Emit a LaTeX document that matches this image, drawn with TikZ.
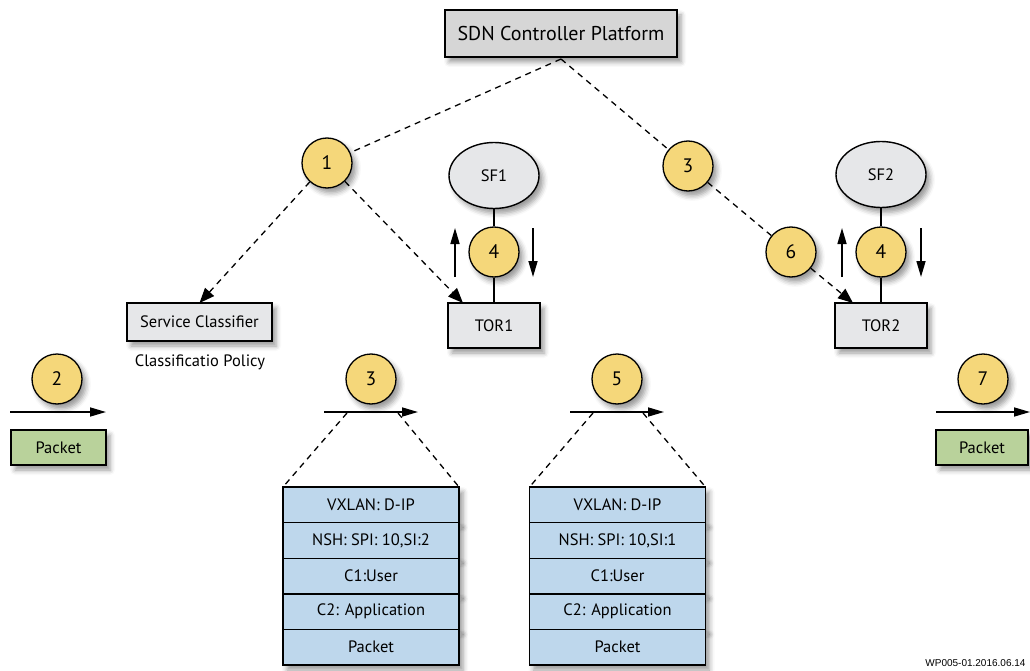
\documentclass[tikz,border=0pt]{standalone}
\usepackage{fontspec}
\setmainfont{PT Sans}
\newfontfamily\footfont{Liberation Sans}
\usetikzlibrary{arrows.meta,shapes.geometric,shadows.blur}
\definecolor{boxgray}{HTML}{E6E7E9}
\definecolor{sdngray}{HTML}{D6D6D6}
\definecolor{circyellow}{HTML}{F5D77A}
\definecolor{pktgreen}{HTML}{B9D29B}
\definecolor{stackblue}{HTML}{BED7EC}
\tikzset{
  shad/.style={blur shadow={shadow xshift=4pt,shadow yshift=-5pt,shadow blur radius=5pt,shadow opacity=40}},
  box/.style={draw,line width=1.4pt,fill=boxgray,inner sep=0pt,outer sep=0pt,font=\fontsize{16.5}{18}\selectfont,shad},
  circ/.style={circle,draw,line width=1.3pt,fill=circyellow,minimum size=50pt,inner sep=0pt,font=\fontsize{19.5}{20}\selectfont,shad},
  sfell/.style={ellipse,draw,line width=1.4pt,fill=boxgray,minimum width=90pt,minimum height=66pt,inner sep=0pt,font=\fontsize{16.5}{18}\selectfont,shad},
  row/.style={draw,line width=1.4pt,fill=stackblue,minimum width=176pt,minimum height=35.6pt,inner sep=0pt,outer sep=0pt,font=\fontsize{16.5}{18}\selectfont,shad},
  pkt/.style={box,fill=pktgreen,minimum width=95pt,minimum height=35pt},
  dashline/.style={line width=1.3pt,dash pattern=on 6pt off 5pt},
  dasharrow/.style={dashline,-{Triangle[length=15pt,width=12pt]}},
  flow/.style={line width=1.6pt,-{Triangle[length=16pt,width=9pt]}},
  link/.style={line width=1.6pt},
}
\begin{document}
\begin{tikzpicture}[x=1pt,y=-1pt]
\useasboundingbox (0,0) rectangle (1030,671);
% top
\node[box,fill=sdngray,minimum width=232pt,minimum height=47pt,font=\fontsize{20}{22}\selectfont] (sdn) at (561,33.5) {SDN Controller Platform};
\node[circ] (c1) at (327,163) {1};
\node[circ] (c3t) at (688,166) {3};
\node[box,minimum width=145pt,minimum height=38pt] (sc) at (199.5,322) {Service Classifier};
\node[font=\fontsize{16.5}{18}\selectfont] (pol) at (200,362) {Classificatio Policy};
% SF1 / TOR1
\node[sfell] (sf1) at (494,175.5) {SF1};
\node[box,minimum width=92pt,minimum height=45pt] (tor1) at (494,325.5) {TOR1};
\node[circ] (c4a) at (494,252) {4};
\draw[link] (sf1) -- (c4a);
\draw[link] (c4a) -- (tor1);
\coordinate (u1a) at (455,277); \coordinate (u1b) at (455,228);
\coordinate (d1a) at (533,228); \coordinate (d1b) at (533,277);
\draw[flow] (u1a) -- (u1b);
\draw[flow] (d1a) -- (d1b);
% SF2 / TOR2
\node[sfell] (sf2) at (881,174.5) {SF2};
\node[box,minimum width=92pt,minimum height=45pt] (tor2) at (881,325.5) {TOR2};
\node[circ] (c4b) at (881,252) {4};
\node[circ] (c6) at (791,252) {6};
\draw[link] (sf2) -- (c4b);
\draw[link] (c4b) -- (tor2);
\coordinate (u2a) at (842,277); \coordinate (u2b) at (842,228);
\coordinate (d2a) at (921,228); \coordinate (d2b) at (921,277);
\draw[flow] (u2a) -- (u2b);
\draw[flow] (d2a) -- (d2b);
% controller dashed links
\coordinate (sdnb) at (561,59);
\draw[dashline] (sdnb) -- (c1);
\draw[dashline] (sdnb) -- (c3t);
\draw[dasharrow] (c1) -- (sc.north);
\draw[dasharrow] (c1) -- ([xshift=15pt]tor1.north west);
\draw[dashline] (c3t) -- (c6);
\draw[dasharrow] (c6) -- ([xshift=18pt]tor2.north west);
% lower circles and flows
\node[circ] (c2) at (57,379) {2};
\node[circ] (c3) at (371,379) {3};
\node[circ] (c5) at (617,379) {5};
\node[circ] (c7) at (983,379) {7};
\coordinate (a2s) at (10,412); \coordinate (a2e) at (106,412);
\coordinate (a3s) at (324,412); \coordinate (a3e) at (418,412);
\coordinate (a5s) at (570,412); \coordinate (a5e) at (664,412);
\coordinate (a7s) at (936,412); \coordinate (a7e) at (1030,412);
\draw[flow] (a2s) -- (a2e);
\draw[flow] (a3s) -- (a3e);
\draw[flow] (a5s) -- (a5e);
\draw[flow] (a7s) -- (a7e);
\node[pkt] (p1) at (58.5,447.5) {Packet};
\node[pkt,minimum width=92pt] (p2) at (982,447.5) {Packet};
% stack 1
\node[row] (s11) at (371,504.8) {VXLAN: D-IP};
\node[row] (s12) at (371,540.4) {NSH: SPI: 10,SI:2};
\node[row] (s13) at (371,576.0) {C1:User};
\node[row] (s14) at (371,611.6) {C2: Application};
\node[row] (s15) at (371,647.2) {Packet};
% stack 2
\node[row] (s21) at (617.5,504.8) {VXLAN: D-IP};
\node[row] (s22) at (617.5,540.4) {NSH: SPI: 10,SI:1};
\node[row] (s23) at (617.5,576.0) {C1:User};
\node[row] (s24) at (617.5,611.6) {C2: Application};
\node[row] (s25) at (617.5,647.2) {Packet};
% zoom dashed lines
\coordinate (z3l) at (347,413); \coordinate (z3r) at (398,413);
\coordinate (z5l) at (593,413); \coordinate (z5r) at (643,413);
\draw[dashline] (z3l) -- (s11.north west);
\draw[dashline] (z3r) -- (s11.north east);
\draw[dashline] (z5l) -- (s21.north west);
\draw[dashline] (z5r) -- (s21.north east);
% footnote
\node[font=\footfont\fontsize{10}{11}\selectfont,anchor=east] (foot) at (1029,663) {WP005-01.2016.06.14};
\end{tikzpicture}
\end{document}
